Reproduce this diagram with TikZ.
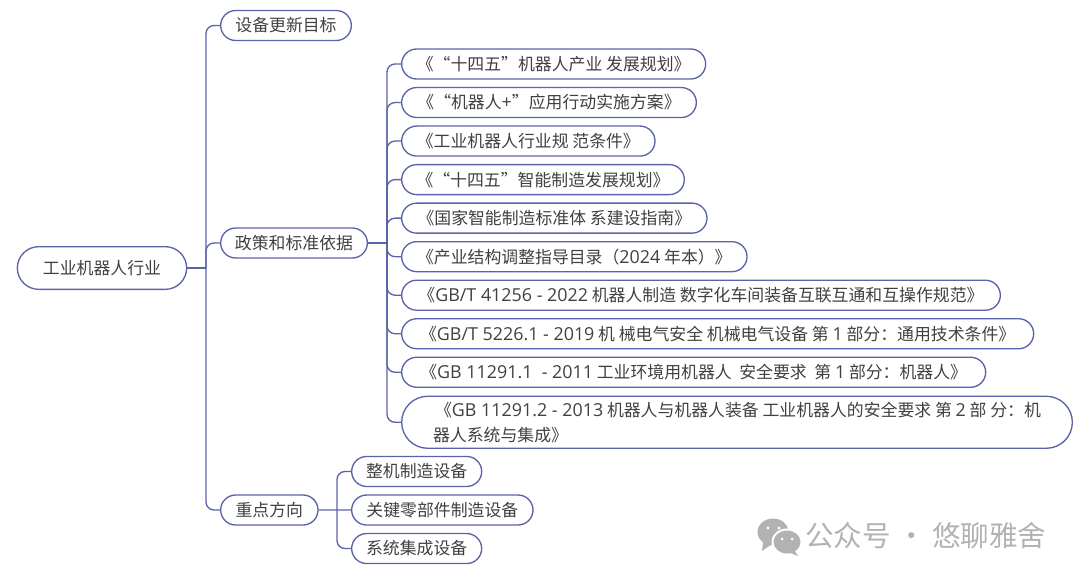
\documentclass[tikz,border=0pt]{standalone}
\usepackage{fontspec}
\setmainfont{Noto Sans CJK SC}
\newfontfamily\latfont[Scale=1.06]{Open Sans}
\newcommand{\lat}[1]{{\latfont #1}}
\usepackage{tikz}
\usetikzlibrary{positioning}
\usetikzlibrary{shapes.misc}
\definecolor{linkblue}{RGB}{92,98,168}
\definecolor{txtgray}{RGB}{64,64,64}
\definecolor{markgray}{RGB}{178,178,178}
\tikzset{
    topic/.style={
           rounded rectangle,
           draw=linkblue, line width=1pt,
           minimum height=22.5pt,
           inner sep=0pt,
           text=txtgray,
           font=\fontsize{12.65}{18.6}\selectfont,
           },
    link/.style={
           draw=linkblue, line width=1pt,
           rounded corners=6pt,
           to path={|- (\tikztotarget)},
           },
    plain/.style={
           draw=linkblue, line width=1pt,
           },
}

\begin{document}
\begin{tikzpicture}[x=0.75pt, y=-0.75pt, node distance=28.9pt, on grid]
   \useasboundingbox (0,0) rectangle (1080,579);

   \node[topic, minimum width=127pt, minimum height=32pt] (0) at (102,268) {工业机器人行业};
   \node[topic, minimum width=98pt, anchor=west] (1) at (220,25.5) {设备更新目标};
   \node[topic, minimum width=110pt, anchor=west] (2) at (220,243) {政策和标准依据};
   \node[topic, minimum width=73pt, anchor=west] (3) at (220,510) {重点方向};

   \node[topic, minimum width=228pt, anchor=west] (4) at (401,64) {《“十四五”机器人产业 发展规划》};
   \node[topic, minimum width=221pt] (5) [below=of 4.west, anchor=west] {《“机器人\lat{+}”应用行动实施方案》};
   \node[topic, minimum width=190pt] (6) [below=of 5.west, anchor=west] {《工业机器人行业规 范条件》};
   \node[topic, minimum width=212pt] (7) [below=of 6.west, anchor=west] {《“十四五”智能制造发展规划》};
   \node[topic, minimum width=229pt] (8) [below=of 7.west, anchor=west] {《国家智能制造标准体 系建设指南》};
   \node[topic, minimum width=259pt] (9) [below=of 8.west, anchor=west] {《产业结构调整指导目录（\lat{2024} 年本）》};
   \node[topic, minimum width=449pt] (10) [below=of 9.west, anchor=west] {《\lat{GB/T 41256 - 2022} 机器人制造 数字化车间装备互联互通和互操作规范》};
   \node[topic, minimum width=474pt] (11) [below=of 10.west, anchor=west] {《\lat{GB/T 5226.1 - 2019} 机 械电气安全 机械电气设备 第 \lat{1} 部分：通用技术条件》};
   \node[topic, minimum width=438pt] (12) [below=of 11.west, anchor=west] {《\lat{GB 11291.1 \ - 2011} 工业环境用机器人 \ 安全要求 \ 第 \lat{1} 部分：机器人》};
   \node[topic, minimum width=503pt, minimum height=39pt, align=left] (13) [below=37.5pt of 12.west, anchor=west]
        {\hspace{1.5pt}《\lat{GB 11291.2 - 2013} 机器人与机器人装备 工业机器人的安全要求 第 \lat{2} 部 分：机\\器人系统与集成》};

   \node[topic, minimum width=97.5pt, anchor=west] (14) at (351,471.47) {整机制造设备};
   \node[topic, minimum width=136pt] (15) [below=of 14.west, anchor=west] {关键零部件制造设备};
   \node[topic, minimum width=97.5pt] (16) [below=of 15.west, anchor=west] {系统集成设备};

   % junctions on the trunks
   \coordinate (j0) at (206,268);
   \coordinate (j2) at (387,243);
   \coordinate (j3) at (337,510);

   \path[plain]
    (0.east) edge (j0)
    (2.east) edge (j2)
    (3.east) edge (15.west)
       ;
   \path[link]
    (j0) edge (1.west)
    (j0) edge (2.west)
    (j0) edge (3.west)
    (j2) edge (4.west)
    (j2) edge (5.west)
    (j2) edge (6.west)
    (j2) edge (7.west)
    (j2) edge (8.west)
    (j2) edge (9.west)
    (j2) edge (10.west)
    (j2) edge (11.west)
    (j2) edge (12.west)
    (j2) edge (13.west)
    (j3) edge (14.west)
    (j3) edge (16.west)
       ;

   % watermark
   \fill[markgray] (773,532) ellipse (15.5 and 13.5);
   \fill[markgray] (763,542) -- (762,551) -- (772,544) -- cycle;
   \fill[white] (787,542) ellipse (15.5 and 13.5);
   \fill[markgray] (787,542) ellipse (13.5 and 11.5);
   \fill[markgray] (794,550) -- (798,556) -- (788,552) -- cycle;
   \fill[white] (768,528) circle (1.7) (779,528) circle (1.7) (782,539) circle (1.5) (792,539) circle (1.5);
   \node[text=markgray, font=\fontsize{21.4}{24}\selectfont, anchor=west, inner sep=0pt] (mark) at (805,536) {公众号 · 悠聊雅舍};
\end{tikzpicture}
\end{document}
